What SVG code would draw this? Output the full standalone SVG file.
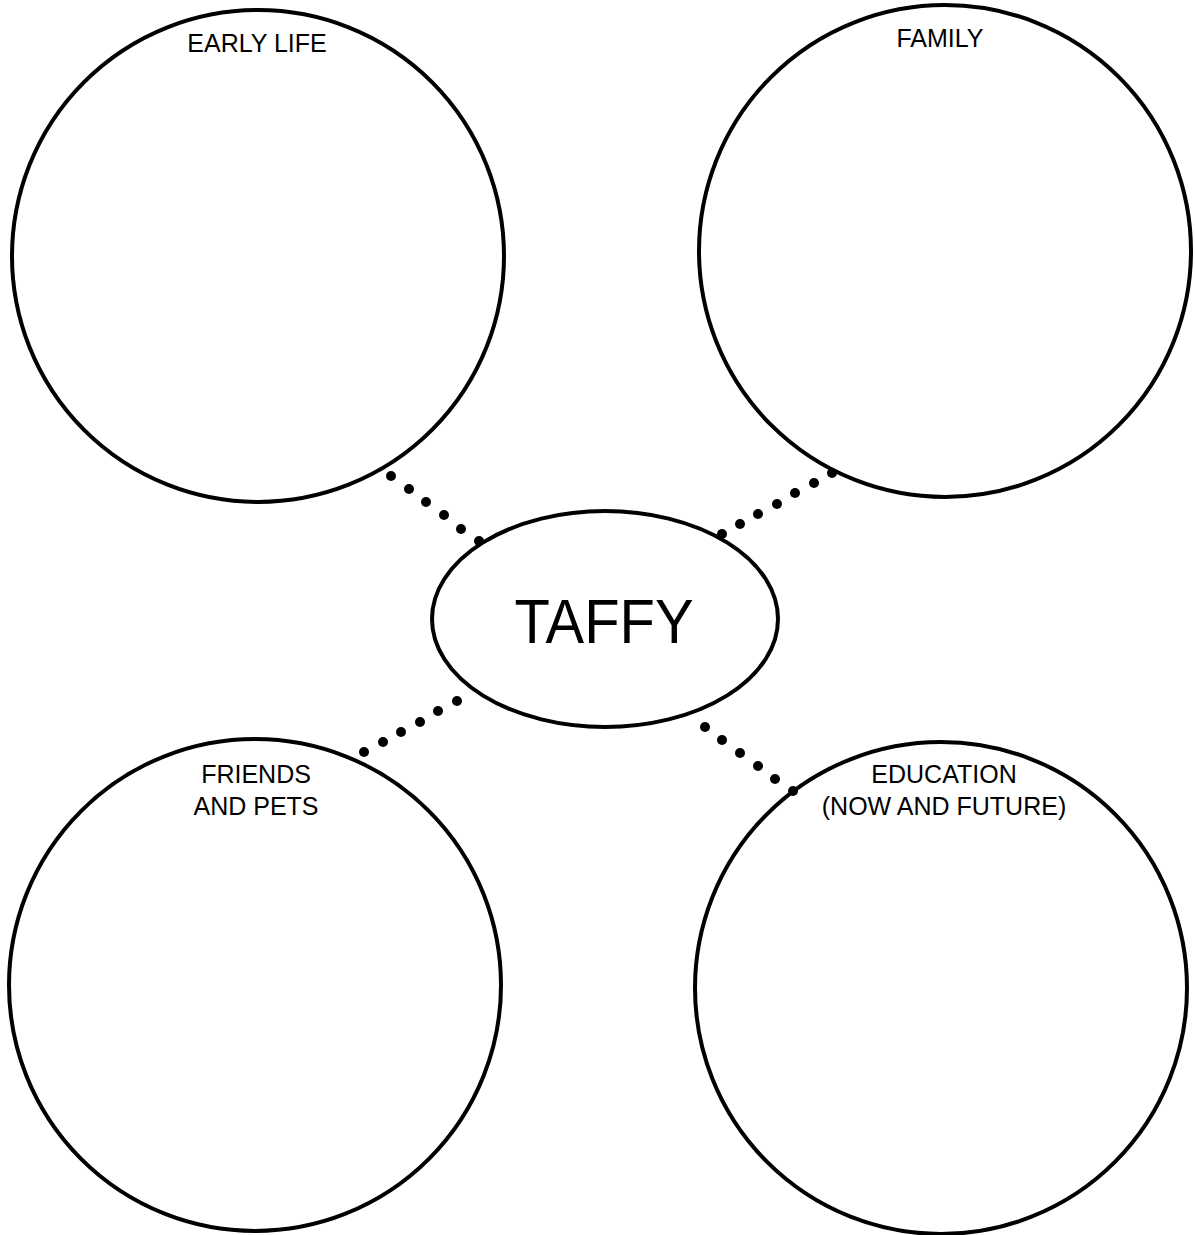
<svg xmlns="http://www.w3.org/2000/svg" width="1195" height="1235" viewBox="0 0 1195 1235">
<style>
.c{fill:none;stroke:#000;stroke-width:4}
.t{font-family:"Liberation Sans",Arial,sans-serif;font-size:25px;fill:#000;text-anchor:middle}
.d{fill:#000}
</style>
<rect width="1195" height="1235" fill="#fff"/>
<g id="connectors">
<g class="d">
<circle cx="391" cy="476" r="5"/><circle cx="409" cy="489" r="5"/><circle cx="426" cy="502" r="5"/><circle cx="444" cy="515" r="5"/><circle cx="461" cy="529" r="5"/><circle cx="479" cy="541" r="5"/>
<circle cx="722" cy="534" r="5"/><circle cx="740" cy="524" r="5"/><circle cx="758" cy="514" r="5"/><circle cx="777" cy="504" r="5"/><circle cx="795" cy="493" r="5"/><circle cx="814" cy="483" r="5"/><circle cx="832" cy="473" r="5"/>
<circle cx="364" cy="752" r="5"/><circle cx="383" cy="742" r="5"/><circle cx="401" cy="732" r="5"/><circle cx="420" cy="722" r="5"/><circle cx="438" cy="711" r="5"/><circle cx="457" cy="701" r="5"/>
<circle cx="705" cy="727" r="5"/><circle cx="722" cy="740" r="5"/><circle cx="740" cy="753" r="5"/><circle cx="758" cy="766" r="5"/><circle cx="775" cy="779" r="5"/><circle cx="793" cy="791" r="5"/>
</g>
</g>
<g id="early-life">
<circle class="c" cx="258" cy="256" r="246"/>
<text class="t" x="257" y="52">EARLY LIFE</text>
</g>
<g id="family">
<circle class="c" cx="945" cy="251" r="246"/>
<text class="t" x="940" y="47">FAMILY</text>
</g>
<g id="friends">
<circle class="c" cx="255" cy="985" r="246"/>
<text class="t" x="256" y="783">FRIENDS</text>
<text class="t" x="256" y="815">AND PETS</text>
</g>
<g id="education">
<circle class="c" cx="941" cy="988" r="246"/>
<text class="t" x="944" y="783">EDUCATION</text>
<text class="t" x="944" y="815">(NOW AND FUTURE)</text>
</g>
<g id="taffy">
<ellipse class="c" cx="605" cy="619" rx="173" ry="108" fill="#fff"/>
<text class="t" x="604" y="643" style="font-size:63px" textLength="179" lengthAdjust="spacingAndGlyphs">TAFFY</text>
</g>
</svg>
